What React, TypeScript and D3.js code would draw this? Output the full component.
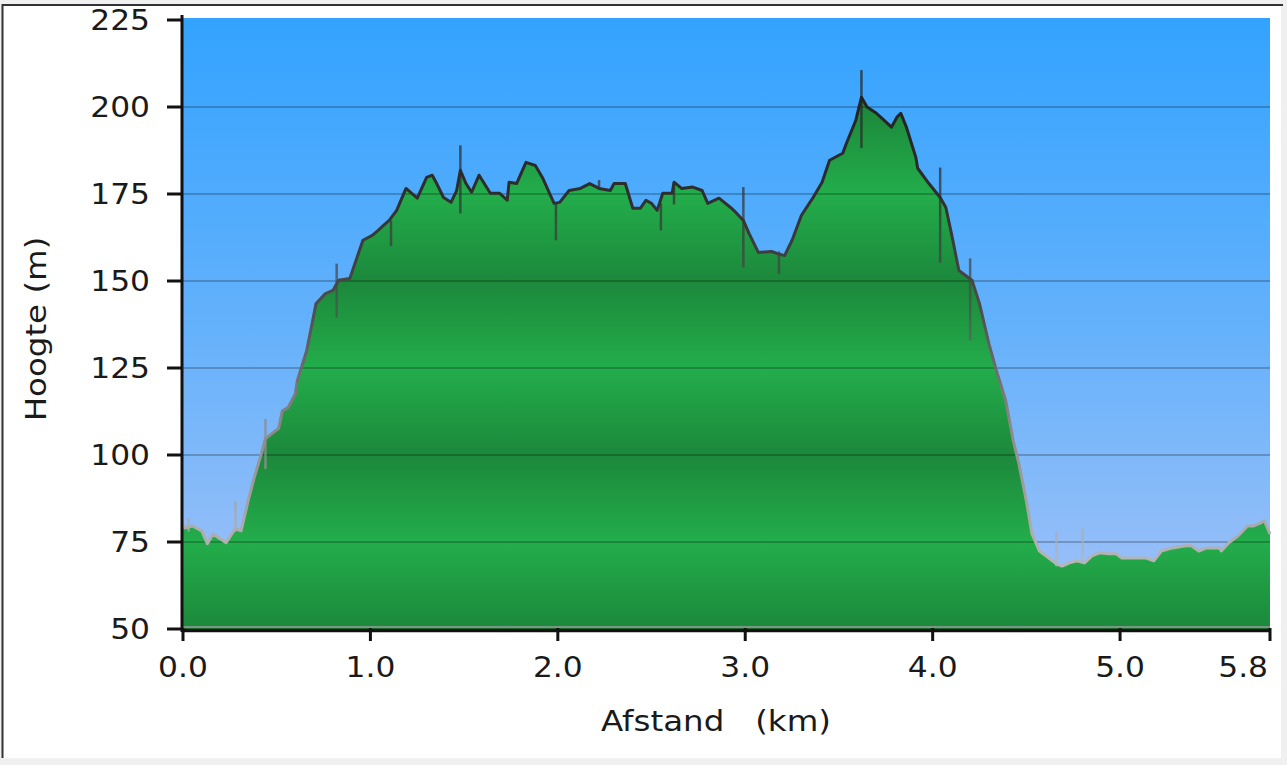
import React from 'react';
import * as d3 from 'd3';

// Elevation profile (distance in km, elevation in m)
const distanceKm = [
  0.0, 0.01, 0.05, 0.1, 0.13, 0.16, 0.2, 0.23, 0.26, 0.28, 0.31, 0.35, 0.38, 0.42, 0.44, 0.47, 0.51, 0.53, 0.56, 0.6,
  0.61, 0.66, 0.71, 0.76, 0.8, 0.83, 0.89, 0.96, 1.01, 1.04, 1.07, 1.1, 1.14, 1.19, 1.25, 1.3, 1.33, 1.35, 1.39, 1.43,
  1.46, 1.48, 1.51, 1.54, 1.58, 1.64, 1.69, 1.73, 1.74, 1.78, 1.83, 1.88, 1.92, 1.98, 2.01, 2.06, 2.12, 2.17, 2.22, 2.28,
  2.3, 2.36, 2.4, 2.44, 2.47, 2.5, 2.53, 2.56, 2.61, 2.62, 2.66, 2.72, 2.77, 2.8, 2.86, 2.92, 2.95, 2.99, 3.02, 3.07,
  3.14, 3.17, 3.21, 3.25, 3.3, 3.36, 3.41, 3.45, 3.52, 3.54, 3.59, 3.62, 3.65, 3.7, 3.74, 3.78, 3.81, 3.83, 3.86, 3.91,
  3.92, 3.98, 4.04, 4.07, 4.1, 4.14, 4.21, 4.25, 4.3, 4.34, 4.39, 4.43, 4.46, 4.5, 4.53, 4.57, 4.62, 4.66, 4.69, 4.73,
  4.77, 4.81, 4.85, 4.89, 4.94, 4.98, 5.01, 5.06, 5.14, 5.18, 5.22, 5.28, 5.35, 5.38, 5.42, 5.46, 5.53, 5.54, 5.58, 5.63,
  5.68, 5.71, 5.75, 5.77, 5.8,
];
const elevationM = [
  80, 79, 79.6, 78.2, 74.5, 77.3, 75.9, 74.8, 77.3, 78.8, 78.2, 87.4, 93.5, 100.7, 104.7, 106, 107.6, 112.7, 113.6, 117.6,
  121.4, 130, 143.5, 146.4, 147.3, 150.2, 150.7, 161.7, 163.1, 164.5, 166, 167.4, 170.3, 176.6, 173.8, 179.8, 180.4, 178.4, 174, 172.6,
  176, 181.8, 178, 175.5, 180.4, 175.2, 175.2, 173.2, 178.4, 178, 184.1, 183.2, 179.5, 172.3, 172.6, 176, 176.6, 178, 176.6, 176,
  178, 178, 170.9, 170.9, 173.2, 172.3, 170.3, 175.2, 175.2, 178.4, 176.6, 177, 176, 172.3, 173.8, 171.2, 169.7, 167.4, 163.7, 158.2,
  158.5, 157.9, 157.3, 161.7, 168.9, 173.8, 178.4, 184.7, 186.7, 189.6, 196.2, 202.8, 200, 198.2, 196.2, 194.2, 197.1, 198.2, 194.2, 185.6,
  182.4, 178, 174, 171.2, 163.7, 153, 150.2, 143.5, 132, 124.3, 115.6, 104.1, 97.5, 86.8, 77.3, 72.4, 70.4, 68.7, 68.1, 69,
  69.6, 69, 71, 71.9, 71.6, 71.6, 70.4, 70.4, 70.4, 69.6, 72.4, 73.3, 73.9, 73.9, 72.4, 73.3, 73.3, 72.4, 74.8, 76.8,
  79.6, 79.6, 80.5, 81.1, 77.3,
];

// Raw-measurement spikes (km, low, high)
const spikeKm = [0.03, 0.28, 0.44, 0.82, 1.11, 1.48, 1.99, 2.22, 2.55, 2.62, 2.99, 3.18, 3.62, 4.04, 4.2, 4.66, 4.8];
const spikeLow = [78, 78, 96, 139.5, 160, 169.4, 161.7, 176.6, 164.5, 172, 153.9, 152, 188.2, 155.2, 132.9, 68, 69];
const spikeHigh = [82, 86.8, 110.4, 155, 167.4, 189, 172.6, 179, 172.3, 178.4, 177, 158.5, 210.6, 182.6, 156.5, 78.2, 79];

const yTicks = [50, 75, 100, 125, 150, 175, 200, 225];
const xTicks = [0, 1, 2, 3, 4, 5, 5.8];
const xTickLabels = ['0.0', '1.0', '2.0', '3.0', '4.0', '5.0', '5.8'];

const FONT = 'DejaVu Sans, Verdana, sans-serif';
const FS = 29;
const SX = 1.08;

export default function App() {
  const W = 1287;
  const H = 765;
  const x = d3.scaleLinear().domain([0, 5.8]).range([183, 1270]);
  const y = d3.scaleLinear().domain([50, 225]).range([629, 20]);

  const pts = distanceKm.map((d, i) => ({ km: d, elev: elevationM[i] }));
  const areaPath = d3
    .area<{ km: number; elev: number }>()
    .x((d) => x(d.km))
    .y0(y(50))
    .y1((d) => y(d.elev))(pts) as string;
  const linePath = d3
    .line<{ km: number; elev: number }>()
    .x((d) => x(d.km))
    .y((d) => y(d.elev))(pts) as string;

  const yTop = y(225);
  const yBot = y(50);
  const off = (v: number) => (y(v) - yTop) / (yBot - yTop);

  const lineStops: [number, string][] = [
    [225, '#1a1a1a'],
    [175, '#2e2e2e'],
    [140, '#505050'],
    [110, '#878787'],
    [80, '#aaaaaa'],
    [50, '#c8c8c8'],
  ];

  const lastIdx = xTicks.length - 1;

  return (
    <div style={{ position: 'absolute', left: 0, top: 0 }}>
      <svg width={W} height={H} style={{ display: 'block' }}>
        <defs>
          <linearGradient id="sky" gradientUnits="userSpaceOnUse" x1={0} y1={yTop} x2={0} y2={yBot}>
            <stop offset={0} stopColor="#33a3ff" />
            <stop offset={0.5} stopColor="#64b1fb" />
            <stop offset={1} stopColor="#a3c2f7" />
          </linearGradient>
          <linearGradient id="grass" gradientUnits="userSpaceOnUse" x1={0} y1={yTop} x2={0} y2={yBot}>
            {yTicks
              .slice()
              .reverse()
              .map((v) => (
                <stop key={v} offset={off(v)} stopColor={v % 50 === 0 ? '#1c883b' : '#23ad4b'} />
              ))}
          </linearGradient>
          <linearGradient id="stroke" gradientUnits="userSpaceOnUse" x1={0} y1={yTop} x2={0} y2={yBot}>
            {lineStops.map(([v, c]) => (
              <stop key={v} offset={off(v)} stopColor={c} />
            ))}
          </linearGradient>
        </defs>

        <rect x={0} y={0} width={W} height={H} fill="#f0f0f0" />
        <rect x={2} y={4} width={1279} height={754} fill="#ffffff" />
        <line x1={2} y1={5} x2={1283} y2={5} stroke="#333" strokeWidth={2} />
        <line x1={2.5} y1={4} x2={2.5} y2={758} stroke="#333" strokeWidth={2} />

        {/* plot background */}
        <rect x={x(0)} y={yTop - 2} width={x(5.8) - x(0)} height={yBot - yTop + 2} fill="url(#sky)" />

        {/* elevation area */}
        <path d={areaPath} fill="url(#grass)" />

        {/* grid lines */}
        {yTicks
          .filter((v) => v !== 50 && v !== 225)
          .map((v) => (
            <line key={v} x1={x(0)} x2={x(5.8)} y1={y(v)} y2={y(v)} stroke="rgba(0,0,0,0.22)" strokeWidth={2} />
          ))}

        {/* spikes */}
        {spikeKm.map((k, i) => (
          <line
            key={i}
            x1={x(k)}
            x2={x(k)}
            y1={y(spikeLow[i])}
            y2={y(spikeHigh[i])}
            stroke="url(#stroke)"
            strokeOpacity={0.7}
            strokeWidth={2.5}
          />
        ))}

        {/* profile line */}
        <path d={linePath} fill="none" stroke="url(#stroke)" strokeWidth={3} strokeLinejoin="round" />

        {/* bottom edge */}
        <line x1={x(0)} x2={x(5.8)} y1={yBot - 2} y2={yBot - 2} stroke="#9a9a9a" strokeWidth={1.5} />

        {/* axes */}
        <line x1={182} x2={182} y1={15} y2={632} stroke="#111" strokeWidth={3} />
        <line x1={182} x2={x(5.8)} y1={yBot + 1.5} y2={yBot + 1.5} stroke="#111" strokeWidth={3.5} />
        {yTicks.map((v) => (
          <line key={v} x1={167} x2={183} y1={y(v)} y2={y(v)} stroke="#111" strokeWidth={3} />
        ))}
        {xTicks.map((v) => (
          <line key={v} x1={x(v)} x2={x(v)} y1={yBot - 1} y2={yBot + 12} stroke="#111" strokeWidth={3} />
        ))}

        {/* tick labels */}
        {yTicks.map((v) => (
          <text
            key={v}
            transform={`translate(150,${y(v)}) scale(${SX},1)`}
            dy="0.36em"
            textAnchor="end"
            fontFamily={FONT}
            fontSize={FS}
            fill="#1a1a1a"
          >
            {v}
          </text>
        ))}
        {xTicks.map((v, i) => (
          <text
            key={v}
            transform={`translate(${i === lastIdx ? x(v) - 2 : x(v)},677) scale(${SX},1)`}
            textAnchor={i === lastIdx ? 'end' : 'middle'}
            fontFamily={FONT}
            fontSize={FS}
            fill="#1a1a1a"
          >
            {xTickLabels[i]}
          </text>
        ))}

        {/* axis titles */}
        <text
          transform={`translate(716,731) scale(1.12,1)`}
          textAnchor="middle"
          fontFamily={FONT}
          fontSize={FS}
          fill="#1a1a1a"
          xmlSpace="preserve"
          style={{ whiteSpace: 'pre' }}
        >
          {'Afstand   (km)'}
        </text>
        <text
          transform={`translate(46,329) rotate(-90) scale(1.12,1)`}
          textAnchor="middle"
          fontFamily={FONT}
          fontSize={FS}
          fill="#1a1a1a"
        >
          Hoogte (m)
        </text>
      </svg>
    </div>
  );
}
